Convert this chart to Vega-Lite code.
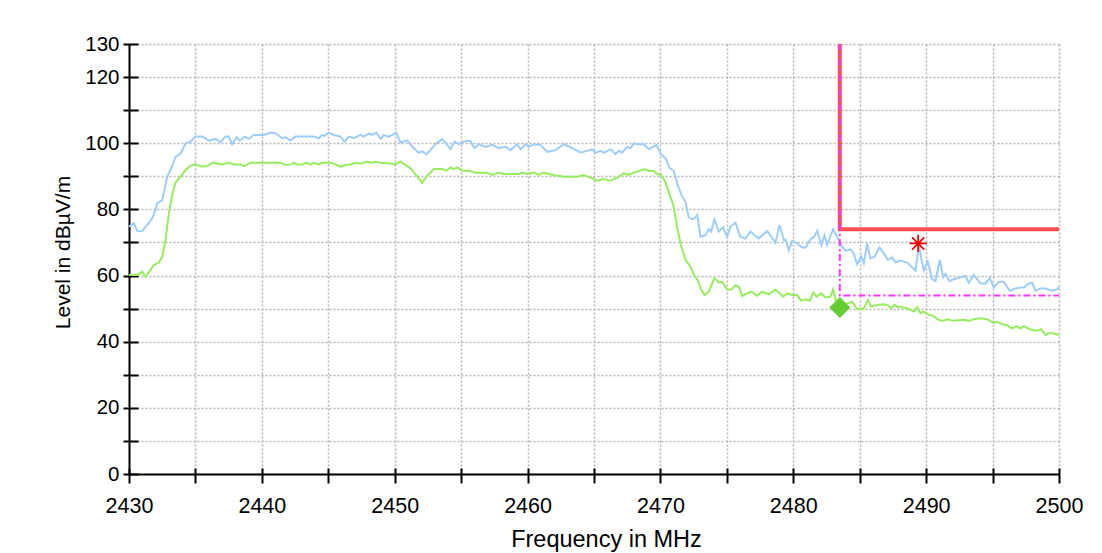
{
  "$schema": "https://vega.github.io/schema/vega-lite/v6.json",
  "width": 930,
  "height": 430,
  "autosize": {"type": "none"},
  "padding": {"left": 129, "top": 44, "right": 43, "bottom": 79},
  "background": "white",
  "config": {"font": "Liberation Sans", "view": {"stroke": null}},
  "datasets": {
    "peak": [
      {"f":2430.0,"L":74.8},{"f":2430.36,"L":75.8},{"f":2430.62,"L":73.5},{"f":2430.99,"L":73.4},{"f":2431.37,"L":75.3},{"f":2431.75,"L":77.3},{"f":2431.99,"L":79.8},{"f":2432.12,"L":81.8},{"f":2432.5,"L":82.8},{"f":2432.88,"L":89.9},{"f":2433.12,"L":91.9},{"f":2433.5,"L":95.9},{"f":2433.88,"L":96.9},{"f":2434.26,"L":100.0},{"f":2434.63,"L":100.5},{"f":2435.01,"L":102.0},{"f":2435.51,"L":102.0},{"f":2436.01,"L":100.8},{"f":2436.51,"L":101.3},{"f":2436.89,"L":100.3},{"f":2437.26,"L":102.0},{"f":2437.51,"L":102.0},{"f":2437.77,"L":99.7},{"f":2438.09,"L":101.8},{"f":2438.34,"L":100.8},{"f":2438.69,"L":102.0},{"f":2439.02,"L":101.3},{"f":2439.39,"L":102.5},{"f":2440.15,"L":102.5},{"f":2440.65,"L":103.2},{"f":2441.03,"L":103.0},{"f":2441.53,"L":101.5},{"f":2441.78,"L":101.8},{"f":2442.16,"L":100.8},{"f":2442.53,"L":102.0},{"f":2443.91,"L":102.0},{"f":2444.29,"L":101.5},{"f":2444.54,"L":102.5},{"f":2444.71,"L":102.2},{"f":2445.04,"L":103.2},{"f":2445.41,"L":102.5},{"f":2445.92,"L":102.0},{"f":2446.22,"L":100.5},{"f":2446.54,"L":102.0},{"f":2446.92,"L":101.5},{"f":2447.42,"L":102.5},{"f":2447.67,"L":102.0},{"f":2448.05,"L":103.0},{"f":2448.3,"L":102.5},{"f":2448.63,"L":103.2},{"f":2448.93,"L":101.3},{"f":2449.18,"L":102.5},{"f":2449.55,"L":102.0},{"f":2450.13,"L":103.2},{"f":2450.43,"L":100.2},{"f":2450.94,"L":100.8},{"f":2451.44,"L":98.5},{"f":2451.81,"L":97.1},{"f":2452.07,"L":97.6},{"f":2452.39,"L":96.6},{"f":2452.82,"L":98.6},{"f":2453.2,"L":100.2},{"f":2453.57,"L":101.2},{"f":2453.82,"L":100.2},{"f":2454.2,"L":98.2},{"f":2454.5,"L":100.5},{"f":2454.82,"L":99.7},{"f":2455.33,"L":100.7},{"f":2455.7,"L":100.7},{"f":2456.0,"L":98.5},{"f":2456.33,"L":99.7},{"f":2456.83,"L":98.9},{"f":2457.34,"L":99.5},{"f":2457.83,"L":98.5},{"f":2458.34,"L":98.9},{"f":2458.71,"L":97.9},{"f":2459.22,"L":99.7},{"f":2459.47,"L":98.2},{"f":2459.84,"L":99.7},{"f":2460.09,"L":98.9},{"f":2460.47,"L":99.7},{"f":2460.97,"L":99.5},{"f":2461.48,"L":97.4},{"f":2462.1,"L":97.9},{"f":2462.73,"L":99.7},{"f":2463.36,"L":98.5},{"f":2463.98,"L":97.2},{"f":2464.49,"L":97.7},{"f":2464.86,"L":98.2},{"f":2465.11,"L":97.1},{"f":2465.49,"L":97.7},{"f":2465.74,"L":97.1},{"f":2466.24,"L":98.2},{"f":2466.62,"L":96.7},{"f":2466.87,"L":97.7},{"f":2467.12,"L":97.2},{"f":2467.5,"L":98.9},{"f":2467.75,"L":98.5},{"f":2468.0,"L":100.0},{"f":2468.25,"L":99.7},{"f":2468.75,"L":99.7},{"f":2469.12,"L":98.2},{"f":2469.7,"L":99.5},{"f":2470.0,"L":96.9},{"f":2470.38,"L":95.4},{"f":2470.7,"L":92.4},{"f":2471.01,"L":91.6},{"f":2471.34,"L":86.9},{"f":2471.64,"L":83.8},{"f":2471.89,"L":82.3},{"f":2472.13,"L":77.6},{"f":2472.47,"L":77.0},{"f":2472.77,"L":78.3},{"f":2473.02,"L":71.7},{"f":2473.39,"L":72.2},{"f":2473.64,"L":74.0},{"f":2473.82,"L":73.3},{"f":2474.07,"L":77.0},{"f":2474.39,"L":73.3},{"f":2474.72,"L":74.6},{"f":2475.02,"L":71.7},{"f":2475.27,"L":74.8},{"f":2475.65,"L":76.0},{"f":2476.02,"L":71.7},{"f":2476.4,"L":71.2},{"f":2476.78,"L":73.3},{"f":2477.08,"L":72.2},{"f":2477.4,"L":71.2},{"f":2478.04,"L":73.5},{"f":2478.66,"L":69.9},{"f":2478.96,"L":75.3},{"f":2479.29,"L":70.7},{"f":2479.41,"L":70.9},{"f":2479.66,"L":67.7},{"f":2479.92,"L":70.5},{"f":2480.29,"L":69.7},{"f":2480.67,"L":68.5},{"f":2480.92,"L":68.5},{"f":2481.29,"L":70.9},{"f":2481.54,"L":71.6},{"f":2481.8,"L":73.5},{"f":2482.1,"L":69.2},{"f":2482.35,"L":72.2},{"f":2482.55,"L":69.2},{"f":2483.0,"L":74.0},{"f":2483.3,"L":71.7},{"f":2483.68,"L":68.7},{"f":2483.93,"L":67.5},{"f":2484.31,"L":67.9},{"f":2484.55,"L":66.7},{"f":2484.81,"L":63.4},{"f":2485.11,"L":65.9},{"f":2485.31,"L":63.7},{"f":2485.56,"L":69.7},{"f":2485.81,"L":65.2},{"f":2486.11,"L":65.7},{"f":2486.49,"L":68.5},{"f":2486.81,"L":66.7},{"f":2487.11,"L":64.7},{"f":2487.44,"L":65.5},{"f":2487.69,"L":64.0},{"f":2488.07,"L":64.5},{"f":2488.57,"L":63.9},{"f":2489.2,"L":61.5},{"f":2489.45,"L":69.0},{"f":2489.82,"L":61.5},{"f":2490.12,"L":64.2},{"f":2490.45,"L":58.9},{"f":2490.7,"L":58.3},{"f":2491.03,"L":64.7},{"f":2491.28,"L":59.5},{"f":2491.45,"L":60.5},{"f":2491.76,"L":58.3},{"f":2492.08,"L":58.9},{"f":2492.59,"L":59.5},{"f":2492.96,"L":59.9},{"f":2493.21,"L":57.8},{"f":2493.59,"L":60.2},{"f":2494.09,"L":57.6},{"f":2494.47,"L":57.6},{"f":2494.79,"L":59.2},{"f":2495.09,"L":56.4},{"f":2495.47,"L":58.1},{"f":2495.84,"L":58.1},{"f":2496.3,"L":55.4},{"f":2496.72,"L":56.1},{"f":2497.1,"L":56.4},{"f":2497.35,"L":56.4},{"f":2497.73,"L":57.6},{"f":2497.98,"L":57.8},{"f":2498.23,"L":55.4},{"f":2498.61,"L":56.1},{"f":2498.98,"L":56.1},{"f":2499.49,"L":55.4},{"f":2499.86,"L":55.8},{"f":2500.0,"L":56.6}
    ],
    "avg": [
      {"f":2430.0,"L":60.2},{"f":2430.62,"L":60.2},{"f":2430.99,"L":61.2},{"f":2431.24,"L":59.6},{"f":2431.62,"L":61.7},{"f":2431.87,"L":63.2},{"f":2432.24,"L":63.9},{"f":2432.5,"L":65.7},{"f":2432.75,"L":70.7},{"f":2433.0,"L":78.8},{"f":2433.25,"L":84.3},{"f":2433.5,"L":88.1},{"f":2433.88,"L":89.9},{"f":2434.26,"L":91.9},{"f":2434.63,"L":93.2},{"f":2435.01,"L":93.6},{"f":2435.51,"L":92.9},{"f":2435.89,"L":93.1},{"f":2436.26,"L":94.1},{"f":2436.64,"L":93.9},{"f":2437.01,"L":93.6},{"f":2437.51,"L":94.1},{"f":2437.89,"L":93.6},{"f":2438.39,"L":93.6},{"f":2438.69,"L":93.1},{"f":2439.14,"L":94.1},{"f":2441.4,"L":94.1},{"f":2441.78,"L":93.4},{"f":2442.16,"L":93.6},{"f":2442.4,"L":94.1},{"f":2442.66,"L":93.6},{"f":2443.04,"L":93.6},{"f":2443.36,"L":94.1},{"f":2443.66,"L":93.6},{"f":2443.91,"L":94.1},{"f":2444.29,"L":93.6},{"f":2444.54,"L":94.1},{"f":2445.17,"L":94.1},{"f":2445.54,"L":93.6},{"f":2445.92,"L":92.9},{"f":2446.3,"L":93.4},{"f":2446.67,"L":93.6},{"f":2447.05,"L":94.1},{"f":2447.42,"L":93.9},{"f":2447.93,"L":94.4},{"f":2448.23,"L":94.1},{"f":2448.55,"L":94.4},{"f":2448.93,"L":94.1},{"f":2449.68,"L":93.9},{"f":2450.06,"L":93.6},{"f":2450.43,"L":94.5},{"f":2450.81,"L":93.4},{"f":2451.19,"L":92.4},{"f":2451.69,"L":90.0},{"f":2452.06,"L":88.1},{"f":2452.44,"L":90.1},{"f":2452.94,"L":92.2},{"f":2453.57,"L":92.2},{"f":2453.9,"L":91.7},{"f":2454.2,"L":92.7},{"f":2454.45,"L":92.2},{"f":2454.75,"L":92.7},{"f":2455.08,"L":91.7},{"f":2455.58,"L":91.7},{"f":2456.08,"L":91.1},{"f":2456.96,"L":91.1},{"f":2457.34,"L":90.4},{"f":2457.83,"L":91.1},{"f":2458.21,"L":90.7},{"f":2459.34,"L":90.7},{"f":2459.6,"L":91.1},{"f":2459.97,"L":90.7},{"f":2460.47,"L":91.1},{"f":2460.85,"L":90.4},{"f":2461.22,"L":91.1},{"f":2461.6,"L":90.7},{"f":2461.97,"L":90.4},{"f":2462.73,"L":89.9},{"f":2463.73,"L":89.9},{"f":2464.19,"L":90.4},{"f":2464.74,"L":89.6},{"f":2465.24,"L":88.7},{"f":2465.74,"L":89.2},{"f":2466.24,"L":88.7},{"f":2466.75,"L":89.6},{"f":2467.24,"L":90.9},{"f":2467.62,"L":90.4},{"f":2468.0,"L":91.1},{"f":2468.37,"L":91.6},{"f":2468.82,"L":92.2},{"f":2469.12,"L":91.6},{"f":2469.5,"L":91.6},{"f":2469.76,"L":90.7},{"f":2470.06,"L":90.4},{"f":2470.38,"L":88.2},{"f":2470.7,"L":84.3},{"f":2470.96,"L":81.5},{"f":2471.26,"L":74.5},{"f":2471.58,"L":68.7},{"f":2471.89,"L":64.7},{"f":2472.26,"L":62.7},{"f":2472.56,"L":60.0},{"f":2472.81,"L":58.6},{"f":2473.02,"L":56.1},{"f":2473.32,"L":54.1},{"f":2473.64,"L":55.1},{"f":2474.07,"L":59.3},{"f":2474.39,"L":57.9},{"f":2474.65,"L":58.1},{"f":2475.02,"L":55.8},{"f":2475.33,"L":55.8},{"f":2475.65,"L":57.1},{"f":2475.9,"L":56.6},{"f":2476.15,"L":53.8},{"f":2476.53,"L":54.6},{"f":2476.85,"L":55.1},{"f":2477.28,"L":53.9},{"f":2477.66,"L":55.1},{"f":2478.16,"L":54.3},{"f":2478.66,"L":55.8},{"f":2479.24,"L":53.6},{"f":2479.54,"L":54.6},{"f":2479.92,"L":54.1},{"f":2480.29,"L":54.1},{"f":2480.59,"L":52.4},{"f":2480.92,"L":52.8},{"f":2481.24,"L":52.4},{"f":2481.5,"L":54.9},{"f":2481.75,"L":53.6},{"f":2482.1,"L":54.6},{"f":2482.42,"L":53.4},{"f":2482.8,"L":53.6},{"f":2483.0,"L":55.8},{"f":2483.25,"L":51.6},{"f":2483.8,"L":51.1},{"f":2484.43,"L":52.1},{"f":2484.81,"L":49.9},{"f":2485.31,"L":50.1},{"f":2485.61,"L":52.6},{"f":2485.86,"L":50.6},{"f":2486.31,"L":51.1},{"f":2486.81,"L":51.3},{"f":2487.11,"L":51.0},{"f":2487.4,"L":50.0},{"f":2487.6,"L":51.2},{"f":2487.9,"L":50.4},{"f":2488.07,"L":50.5},{"f":2488.57,"L":50.1},{"f":2489.07,"L":49.1},{"f":2489.32,"L":50.4},{"f":2489.57,"L":48.6},{"f":2489.82,"L":49.1},{"f":2490.2,"L":48.1},{"f":2490.57,"L":47.8},{"f":2490.82,"L":46.8},{"f":2491.21,"L":46.3},{"f":2491.58,"L":46.8},{"f":2492.08,"L":46.3},{"f":2492.83,"L":46.6},{"f":2493.21,"L":46.3},{"f":2493.59,"L":46.8},{"f":2494.09,"L":47.1},{"f":2494.59,"L":46.8},{"f":2495.05,"L":45.7},{"f":2495.35,"L":46.0},{"f":2495.72,"L":45.3},{"f":2496.1,"L":45.0},{"f":2496.48,"L":44.0},{"f":2496.8,"L":44.7},{"f":2497.1,"L":44.0},{"f":2497.35,"L":44.7},{"f":2497.85,"L":43.7},{"f":2498.36,"L":43.3},{"f":2498.66,"L":43.8},{"f":2498.98,"L":42.0},{"f":2499.31,"L":42.7},{"f":2499.74,"L":42.3},{"f":2500.0,"L":42.0}
    ],
    "limit": [{"i":0,"f":2483.5,"L":130},{"i":1,"f":2483.5,"L":74},{"i":2,"f":2500,"L":74}],
    "guide": [{"i":0,"f":2483.5,"L":130},{"i":1,"f":2483.5,"L":54},{"i":2,"f":2500,"L":54}],
    "diamond": [{"f":2483.5,"L":50.3}],
    "star": [{"f":2489.4,"L":69.7}]
  },
  "layer": [
    {
      "data": {"name": "peak"},
      "mark": {"type": "line", "color": "#9ecdf8", "strokeWidth": 2},
      "encoding": {
        "x": {"field": "f", "type": "quantitative",
          "scale": {"domain": [2430, 2500], "nice": false, "zero": false},
          "axis": {"orient": "bottom", "values": [2430,2435,2440,2445,2450,2455,2460,2465,2470,2475,2480,2485,2490,2495,2500],
            "format": "d", "labelExpr": "datum.value % 10 == 0 ? datum.label : ''",
            "tickSize": 9, "tickWidth": 2, "tickColor": "black", "domainColor": "black", "domainWidth": 2,
            "labelFontSize": 21.5, "labelPadding": 12, "labelColor": "black", "labelOverlap": false, "labelFlush": false,
            "grid": true, "gridColor": "#b4b4b4", "gridDash": [2, 2], "gridWidth": 1.5,
            "title": "Frequency in MHz", "titleFontSize": 23.5, "titleFontWeight": "normal", "titleColor": "black",
            "titleX": 477, "titleY": 72, "titleBaseline": "alphabetic", "titleAlign": "center"}},
        "y": {"field": "L", "type": "quantitative",
          "scale": {"domain": [0, 130], "nice": false, "zero": false},
          "axis": {"orient": "left", "values": [0,10,20,30,40,50,60,70,80,90,100,110,120,130],
            "labelExpr": "datum.value % 20 == 0 || datum.value == 130 ? datum.label : ''",
            "tickSize": 6, "tickWidth": 2, "tickColor": "black", "domainColor": "black", "domainWidth": 2,
            "labelFontSize": 20.5, "labelPadding": 4, "labelColor": "black", "labelOverlap": false, "labelFlush": false,
            "grid": true, "gridColor": "#b4b4b4", "gridDash": [2, 2], "gridWidth": 1.5,
            "title": "Level in dBµV/m", "titleFontSize": 21, "titleFontWeight": "normal", "titleColor": "black",
            "titleX": -59.5, "titleY": 208, "titleBaseline": "alphabetic", "titleAlign": "center", "titleAngle": 270}}
      }
    },
    {
      "data": {"name": "avg"},
      "mark": {"type": "line", "color": "#98ec60", "strokeWidth": 2},
      "encoding": {
        "x": {"field": "f", "type": "quantitative",
          "scale": {"domain": [2430, 2500], "nice": false, "zero": false},
          "axis": {"orient": "bottom", "values": [2430,2435,2440,2445,2450,2455,2460,2465,2470,2475,2480,2485,2490,2495,2500],
            "tickSize": -6, "tickWidth": 2, "tickColor": "black", "domain": false, "labels": false, "grid": false, "title": null}},
        "y": {"field": "L", "type": "quantitative",
          "scale": {"domain": [0, 130], "nice": false, "zero": false},
          "axis": {"orient": "left", "values": [0,10,20,30,40,50,60,70,80,90,100,110,120,130],
            "tickSize": -9, "tickWidth": 2, "tickColor": "black", "domain": false, "labels": false, "grid": false, "title": null}}
      }
    },
    {
      "data": {"name": "limit"},
      "mark": {"type": "line", "color": "#ff4f4f", "strokeWidth": 4, "strokeJoin": "miter", "strokeCap": "butt"},
      "encoding": {
        "x": {"field": "f", "type": "quantitative", "scale": {"domain": [2430, 2500], "nice": false, "zero": false}, "axis": null},
        "y": {"field": "L", "type": "quantitative", "scale": {"domain": [0, 130], "nice": false, "zero": false}, "axis": null},
        "order": {"field": "i", "type": "quantitative"}
      }
    },
    {
      "data": {"name": "guide"},
      "mark": {"type": "line", "color": "#ff33ff", "strokeWidth": 2, "strokeDash": [7, 3, 2, 3]},
      "encoding": {
        "x": {"field": "f", "type": "quantitative", "scale": {"domain": [2430, 2500], "nice": false, "zero": false}, "axis": null},
        "y": {"field": "L", "type": "quantitative", "scale": {"domain": [0, 130], "nice": false, "zero": false}, "axis": null},
        "order": {"field": "i", "type": "quantitative"}
      }
    },
    {
      "data": {"name": "diamond"},
      "mark": {"type": "point", "shape": "diamond", "filled": true, "color": "#66cc33", "size": 441, "opacity": 1},
      "encoding": {
        "x": {"field": "f", "type": "quantitative", "scale": {"domain": [2430, 2500], "nice": false, "zero": false}, "axis": null},
        "y": {"field": "L", "type": "quantitative", "scale": {"domain": [0, 130], "nice": false, "zero": false}, "axis": null}
      }
    },
    {
      "data": {"name": "star"},
      "mark": {"type": "point", "shape": "M-1,0L1,0M0,-1L0,1M-0.7,-0.7L0.7,0.7M-0.7,0.7L0.7,-0.7", "filled": false, "color": "#ff0000", "strokeWidth": 1.8, "size": 300, "opacity": 1},
      "encoding": {
        "x": {"field": "f", "type": "quantitative", "scale": {"domain": [2430, 2500], "nice": false, "zero": false}, "axis": null},
        "y": {"field": "L", "type": "quantitative", "scale": {"domain": [0, 130], "nice": false, "zero": false}, "axis": null}
      }
    }
  ],
  "resolve": {"axis": {"x": "independent", "y": "independent"}}
}
